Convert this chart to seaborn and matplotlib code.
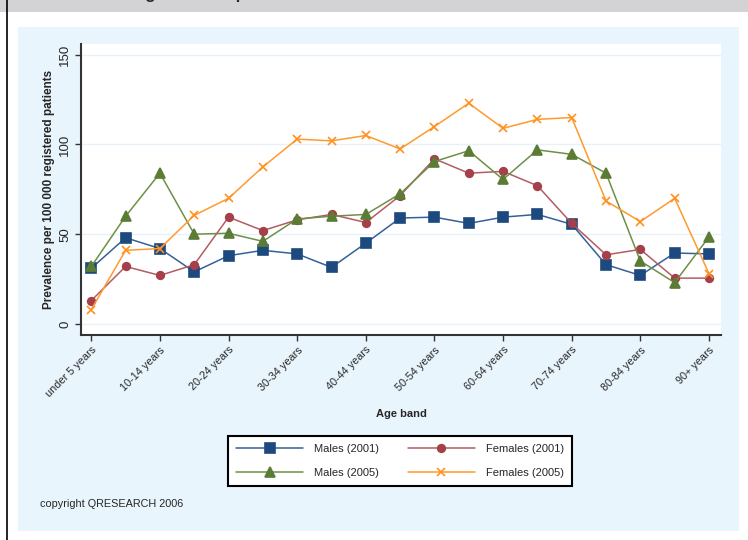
import numpy as np
import pandas as pd
import seaborn as sns
import matplotlib.pyplot as plt
from matplotlib.patches import Rectangle
from matplotlib.lines import Line2D

age_bands = ["under 5 years", "5-9 years", "10-14 years", "15-19 years", "20-24 years",
             "25-29 years", "30-34 years", "35-39 years", "40-44 years", "45-49 years",
             "50-54 years", "55-59 years", "60-64 years", "65-69 years", "70-74 years",
             "75-79 years", "80-84 years", "85-89 years", "90+ years"]

males_2001 = [31, 48, 42, 29, 38, 41, 39, 31.5, 45, 59, 59.5, 56, 59.5, 61, 55.5, 33, 27, 39.5, 39]
females_2001 = [13, 32, 27, 33, 59.5, 52, 58, 61, 56.5, 71.5, 92, 84, 85, 77, 56, 38.5, 41.5, 25.5, 25.5]
males_2005 = [32, 60, 84, 50, 50.5, 46, 58.5, 60, 61, 72.5, 90.5, 96.5, 80.5, 97, 94.5, 84, 35, 23, 48.5]
females_2005 = [8, 41, 42, 60.5, 70, 87.5, 103, 102, 105, 97.5, 110, 123, 109, 114, 115, 68.5, 57, 70, 28]

series_names = ["Males (2001)", "Females (2001)", "Males (2005)", "Females (2005)"]
series_values = [males_2001, females_2001, males_2005, females_2005]
line_colors = ["#35609a", "#b35c62", "#6f8f47", "#ff9a2e"]
marker_colors = ["#1c4a7e", "#a5404a", "#5b7c34", "#ff9020"]
markers = ["s", "o", "^", "x"]
marker_sizes = [6.5, 5.5, 6.5, 5.5]

df = pd.DataFrame({
    "idx": np.tile(np.arange(len(age_bands)), len(series_names)),
    "value": np.concatenate(series_values),
    "series": np.repeat(series_names, len(age_bands)),
})

sns.set_style("white")
plt.rcParams["font.family"] = ["Liberation Sans", "DejaVu Sans"]

fig = plt.figure(figsize=(7.48, 5.40), dpi=100)
fig.patch.set_facecolor("white")

# background frame pieces (behind the axes)
fig.patches.append(Rectangle((0, 1 - 12 / 540), 1, 12 / 540, transform=fig.transFigure,
                             facecolor="#d3d3d6", edgecolor="none", zorder=-2))
fig.patches.append(Rectangle((18 / 748, 1 - 531 / 540), 721 / 748, 504 / 540,
                             transform=fig.transFigure, facecolor="#e9f5fc",
                             edgecolor="none", zorder=-2))
fig.lines.append(Line2D([7 / 748, 7 / 748], [0, 1], transform=fig.transFigure,
                        color="black", lw=1.2, zorder=-1))
# header text, mostly cut off at the top edge as in the original
fig.text(58 / 748, 1 + 1 / 540, "Trends in age and sex prevalence", fontsize=12,
         fontweight="bold", va="baseline", ha="left")

ax = fig.add_axes([81 / 748, 1 - 335 / 540, 640 / 748, 291 / 540])
ax.set_facecolor("white")

handles = {}
for name, col, mcol, mk, ms in zip(series_names, line_colors, marker_colors, markers, marker_sizes):
    sub = df[df["series"] == name]
    sns.lineplot(data=sub, x="idx", y="value", ax=ax, color=col, lw=1.1,
                 marker=mk, markersize=ms, markerfacecolor=mcol, markeredgecolor=mcol,
                 markeredgewidth=1.2, label=name, legend=False)
    handles[name] = ax.lines[-1]

ax.set_xlim(-0.3, 18.35)
ax.set_ylim(-6.2, 156)
ax.set_yticks([0, 50, 100, 150])
ax.set_yticklabels(["0", "50", "100", "150"], rotation=90, va="center", fontsize=9.5)
ax.set_xticks(range(0, len(age_bands), 2))
ax.set_xticklabels(age_bands[::2], rotation=45, ha="right", rotation_mode="anchor", fontsize=7.8)
ax.grid(axis="y", color="#e6f1f9", lw=1)
ax.grid(axis="x", visible=False)
sns.despine(ax=ax)
for s in ["left", "bottom"]:
    ax.spines[s].set_color("#333333")
    ax.spines[s].set_linewidth(1.5)
ax.tick_params(axis="both", direction="out", length=4, width=1, color="#333333", pad=3, left=True, bottom=True)

ax.set_xlabel("Age band", fontsize=8, fontweight="bold", labelpad=7)
ax.set_ylabel("Prevalence per 100 000 registered patients", fontsize=8.5, fontweight="bold", labelpad=3)

order = ["Males (2001)", "Males (2005)", "Females (2001)", "Females (2005)"]
leg = fig.legend([handles[n] for n in order], order, ncol=2, loc="center",
                 bbox_to_anchor=(400 / 748, 1 - 461 / 540), fontsize=8,
                 handlelength=6.0, handletextpad=1.0, columnspacing=2.6,
                 labelspacing=1.3, borderpad=0.7, fancybox=False, framealpha=1,
                 edgecolor="black")
leg.get_frame().set_linewidth(1.5)

fig.text(40 / 748, 1 - 504 / 540, "copyright QRESEARCH 2006", fontsize=7.8, va="center")

fig.savefig("out.png", dpi=100, facecolor="white")
